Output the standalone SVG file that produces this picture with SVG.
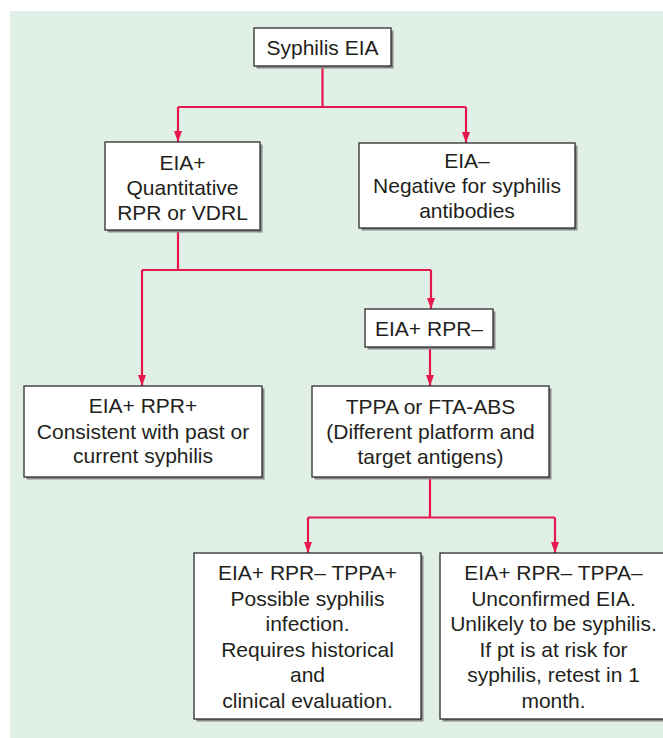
<svg xmlns="http://www.w3.org/2000/svg" width="663" height="738" viewBox="0 0 663 738">
<defs>
<style>
.bg{fill:#e1f0e6}
.box{fill:#ffffff;stroke:#2b2b2b;stroke-width:1.3}
.sh{fill:#8a8a8a}
.t{font-family:"Liberation Sans",Arial,sans-serif;font-size:21px;fill:#231f20;text-anchor:middle}
.c{fill:none;stroke:#e5174d;stroke-width:2.2}
</style>
<marker id="ah" viewBox="0 0 11 8" refX="11" refY="4" markerWidth="11" markerHeight="8" markerUnits="userSpaceOnUse" orient="auto">
<path d="M0,0 L11,4 L0,8 z" fill="#e5174d"/>
</marker>
</defs>
<rect x="0" y="0" width="663" height="738" fill="#ffffff"/>
<rect class="bg" x="10" y="11" width="653" height="727"/>

<g id="connectors">
<path class="c" d="M322.5,66 V107 M178,107 H466"/>
<path class="c" d="M178,107 V142" marker-end="url(#ah)"/>
<path class="c" d="M466,107 V143" marker-end="url(#ah)"/>
<path class="c" d="M178,230 V270 M142,270 H431"/>
<path class="c" d="M142,270 V386" marker-end="url(#ah)"/>
<path class="c" d="M431,270 V309" marker-end="url(#ah)"/>
<path class="c" d="M430,347 V386" marker-end="url(#ah)"/>
<path class="c" d="M430,477 V517.5 M308,517.5 H555"/>
<path class="c" d="M308,517.5 V553" marker-end="url(#ah)"/>
<path class="c" d="M555,517.5 V553" marker-end="url(#ah)"/>
</g>

<g id="n-syphilis-eia">
<rect class="sh" x="256.5" y="30.5" width="137" height="38"/>
<rect class="box" x="254" y="28" width="137" height="38"/>
<text class="t" x="322.5" y="55">Syphilis EIA</text>
</g>

<g id="n-eia-pos">
<rect class="sh" x="107.5" y="144.5" width="155" height="88"/>
<rect class="box" x="105" y="142" width="155" height="88"/>
<text class="t" x="182.5" y="169.5">EIA+</text>
<text class="t" x="182.5" y="194.5">Quantitative</text>
<text class="t" x="182.5" y="219.5">RPR or VDRL</text>
</g>

<g id="n-eia-neg">
<rect class="sh" x="361.5" y="145.5" width="216" height="85"/>
<rect class="box" x="359" y="143" width="216" height="85"/>
<text class="t" x="467" y="168">EIA–</text>
<text class="t" x="467" y="193">Negative for syphilis</text>
<text class="t" x="467" y="218">antibodies</text>
</g>

<g id="n-eia-pos-rpr-neg">
<rect class="sh" x="367.5" y="311.5" width="128" height="38"/>
<rect class="box" x="365" y="309" width="128" height="38"/>
<text class="t" x="429" y="335.5">EIA+ RPR–</text>
</g>

<g id="n-eia-pos-rpr-pos">
<rect class="sh" x="26.5" y="388.5" width="238" height="91"/>
<rect class="box" x="24" y="386" width="238" height="91"/>
<text class="t" x="143" y="413">EIA+ RPR+</text>
<text class="t" x="143" y="438.5">Consistent with past or</text>
<text class="t" x="143" y="463">current syphilis</text>
</g>

<g id="n-tppa">
<rect class="sh" x="314.5" y="388.5" width="237" height="91"/>
<rect class="box" x="312" y="386" width="237" height="91"/>
<text class="t" x="430.5" y="413.5">TPPA or FTA-ABS</text>
<text class="t" x="430.5" y="438.5">(Different platform and</text>
<text class="t" x="430.5" y="463.5">target antigens)</text>
</g>

<g id="n-tppa-pos">
<rect class="sh" x="196.5" y="555.5" width="227" height="166"/>
<rect class="box" x="194" y="553" width="227" height="166"/>
<text class="t" x="307.5" y="580">EIA+ RPR– TPPA+</text>
<text class="t" x="307.5" y="605.5">Possible syphilis</text>
<text class="t" x="307.5" y="631">infection.</text>
<text class="t" x="307.5" y="656.5">Requires historical</text>
<text class="t" x="307.5" y="682">and</text>
<text class="t" x="307.5" y="707.5">clinical evaluation.</text>
</g>

<g id="n-tppa-neg">
<rect class="sh" x="442.5" y="555.5" width="228" height="166"/>
<rect class="box" x="440" y="553" width="228" height="166"/>
<text class="t" x="553.5" y="580">EIA+ RPR– TPPA–</text>
<text class="t" x="553.5" y="605.5">Unconfirmed EIA.</text>
<text class="t" x="553.5" y="631">Unlikely to be syphilis.</text>
<text class="t" x="553.5" y="656.5">If pt is at risk for</text>
<text class="t" x="553.5" y="682">syphilis, retest in 1</text>
<text class="t" x="553.5" y="707.5">month.</text>
</g>
</svg>
